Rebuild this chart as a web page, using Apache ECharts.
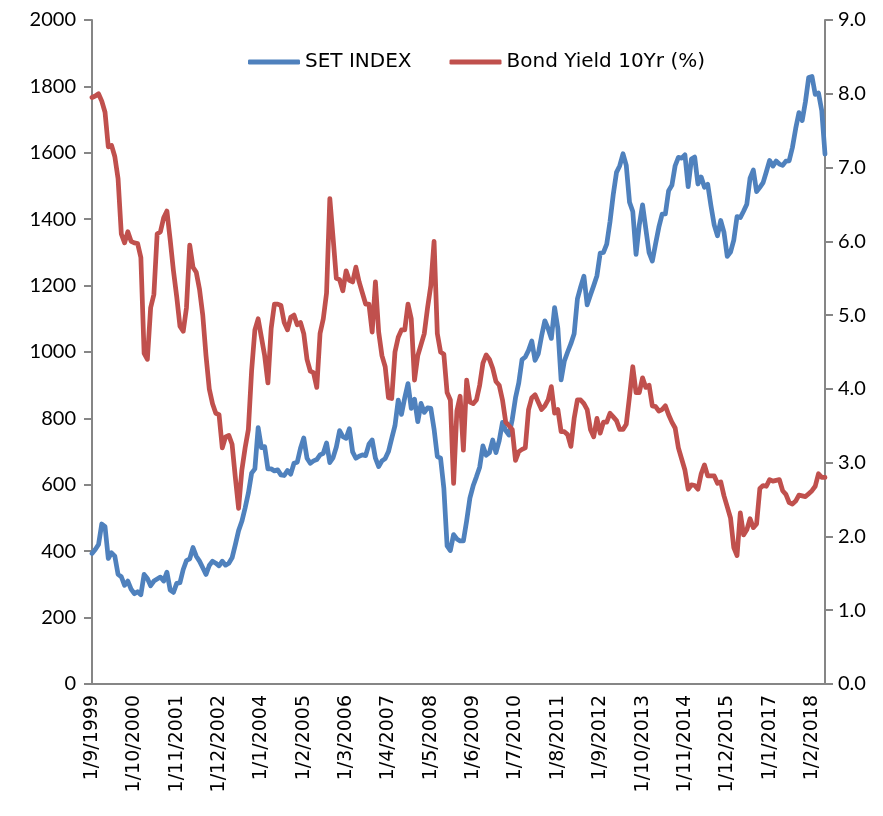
<!DOCTYPE html>
<html>
<head>
<meta charset="utf-8">
<script src="https://cdn.jsdelivr.net/npm/echarts@6/dist/echarts.min.js"></script>
<style>
html,body{margin:0;padding:0;background:#fff;}
#chart{width:883px;height:816px;}
</style>
</head>
<body>
<div id="chart"></div>
<script>
// Monthly categories: 1/9/1999 .. 1/6/2018 (d/m/yyyy)
var startYear = 1999, startMonth = 9, monthCount = 226;
var categories = [];
for (var i = 0; i < monthCount; i++) {
  var m = (startMonth - 1 + i) % 12 + 1;
  var y = startYear + Math.floor((startMonth - 1 + i) / 12);
  categories.push('1/' + m + '/' + y);
}

var setIndex = [
  393,405,420,482,474,378,395,385,330,323,297,310,286,272,278,269,
  330,318,296,310,316,322,310,337,283,276,303,305,
  345,372,377,411,385,370,350,330,357,370,364,356,
  370,358,364,380,420,462,490,530,575,635,648,772,
  712,715,648,648,642,645,630,628,643,632,665,668,
  710,741,680,665,672,676,690,695,726,667,682,714,
  763,745,740,769,699,680,686,690,688,722,735,680,
  655,672,679,700,740,778,855,812,862,905,830,858,
  790,845,818,832,830,768,685,680,590,416,402,450,
  437,431,431,491,560,597,624,653,717,689,697,735,
  697,733,788,763,750,797,862,907,977,985,1005,1033,
  975,995,1048,1094,1071,1041,1134,1071,916,973,1000,1025,
  1055,1160,1196,1228,1142,1172,1200,1230,1298,1300,1325,1392,
  1474,1541,1561,1597,1562,1451,1423,1294,1383,1443,1371,1299,
  1274,1326,1376,1415,1416,1486,1502,1561,1586,1584,1594,1498,
  1581,1587,1506,1527,1496,1505,1440,1382,1350,1396,1360,1288,
  1301,1337,1408,1405,1424,1445,1524,1548,1483,1496,1510,1543,
  1577,1560,1575,1566,1562,1575,1576,1616,1673,1721,1697,1754,
  1827,1830,1776,1780,1727,1596
];

var bondYield = [
  7.95,7.97,8.00,7.90,7.75,7.28,7.30,7.15,6.85,6.10,5.98,6.13,6.00,5.98,5.97,5.78,
  4.48,4.40,5.10,5.28,6.10,6.13,6.32,6.41,6.02,5.60,5.25,4.85,
  4.78,5.10,5.95,5.65,5.58,5.35,5.00,4.45,4.00,3.80,3.67,3.65,
  3.20,3.35,3.37,3.25,2.80,2.38,2.90,3.20,3.45,4.25,4.80,4.95,
  4.70,4.45,4.08,4.82,5.15,5.15,5.13,4.90,4.80,4.97,5.00,4.87,
  4.90,4.75,4.40,4.24,4.22,4.02,4.75,4.95,5.30,6.58,6.05,5.50,
  5.48,5.33,5.60,5.47,5.45,5.65,5.45,5.30,5.15,5.15,4.77,5.45,
  4.77,4.45,4.30,3.88,3.87,4.50,4.70,4.80,4.80,5.15,4.95,4.12,
  4.45,4.60,4.75,5.10,5.40,6.00,4.75,4.50,4.47,3.95,3.85,2.72,
  3.70,3.90,3.17,4.12,3.82,3.80,3.85,4.05,4.35,4.46,4.40,4.28,
  4.10,4.05,3.85,3.55,3.50,3.45,3.03,3.15,3.18,3.20,3.72,3.88,
  3.92,3.82,3.72,3.77,3.85,4.03,3.67,3.72,3.42,3.42,3.38,3.22,
  3.60,3.85,3.85,3.80,3.72,3.45,3.35,3.60,3.40,3.55,3.55,3.67,
  3.62,3.57,3.45,3.45,3.52,3.90,4.30,3.95,3.95,4.15,4.02,4.05,
  3.77,3.76,3.70,3.72,3.77,3.65,3.55,3.47,3.20,3.05,2.90,2.64,
  2.70,2.69,2.64,2.85,2.97,2.82,2.82,2.82,2.72,2.74,2.55,2.40,
  2.25,1.85,1.74,2.32,2.02,2.09,2.24,2.12,2.17,2.65,2.69,2.68,
  2.77,2.75,2.76,2.77,2.62,2.57,2.46,2.44,2.48,2.56,2.55,2.54,
  2.58,2.62,2.68,2.85,2.80,2.80
];

var leftTicks = {min: 0, max: 2000, interval: 200};
var rightTicks = {min: 0, max: 9, interval: 1};
var seriesNames = ['SET INDEX', 'Bond Yield 10Yr (%)'];

var NUMFONT = 'Lato';
var TXTFONT = 'DejaVu Sans';
var axisGray = '#868686';
var chart = echarts.init(document.getElementById('chart'), null, {renderer: 'canvas'});
chart.setOption({
  animation: false,
  backgroundColor: '#fff',
  textStyle: {fontFamily: NUMFONT},
  grid: {left: 92, right: 58, top: 20, bottom: 132, containLabel: false},
  legend: {
    top: 47, left: 243,
    icon: 'roundRect',
    itemWidth: 52, itemHeight: 5, itemGap: 38,
    textStyle: {fontFamily: TXTFONT, fontSize: 20, color: '#000'},
    data: seriesNames
  },
  xAxis: {
    type: 'category',
    data: categories,
    boundaryGap: false,
    axisLine: {lineStyle: {color: axisGray, width: 2}},
    axisTick: {show: false},
    axisLabel: {interval: 12, rotate: 90, fontFamily: TXTFONT, fontSize: 19, color: '#000', margin: 11},
    splitLine: {show: false}
  },
  yAxis: [
    {
      type: 'value', position: 'left',
      min: leftTicks.min, max: leftTicks.max, interval: leftTicks.interval,
      axisLine: {show: true, lineStyle: {color: axisGray, width: 2}},
      axisTick: {show: true, length: 8, lineStyle: {color: axisGray, width: 2}},
      axisLabel: {fontFamily: NUMFONT, fontSize: 20, color: '#000', margin: 16,
        formatter: function (v) { return String(v); }},
      splitLine: {show: false}
    },
    {
      type: 'value', position: 'right',
      min: rightTicks.min, max: rightTicks.max, interval: rightTicks.interval,
      axisLine: {show: true, lineStyle: {color: axisGray, width: 2}},
      axisTick: {show: true, length: 8, lineStyle: {color: axisGray, width: 2}},
      axisLabel: {fontFamily: NUMFONT, fontSize: 20, color: '#000', margin: 13,
        formatter: function (v) { return v.toFixed(1); }},
      splitLine: {show: false}
    }
  ],
  series: [
    {
      name: seriesNames[0], type: 'line', yAxisIndex: 0,
      data: setIndex, showSymbol: false, symbol: 'none',
      lineStyle: {color: '#4F81BD', width: 4.75, join: 'round', cap: 'round'},
      itemStyle: {color: '#4F81BD'}
    },
    {
      name: seriesNames[1], type: 'line', yAxisIndex: 1,
      data: bondYield, showSymbol: false, symbol: 'none',
      lineStyle: {color: '#C0504D', width: 4.75, join: 'round', cap: 'round'},
      itemStyle: {color: '#C0504D'}
    }
  ]
});
</script>
</body>
</html>
